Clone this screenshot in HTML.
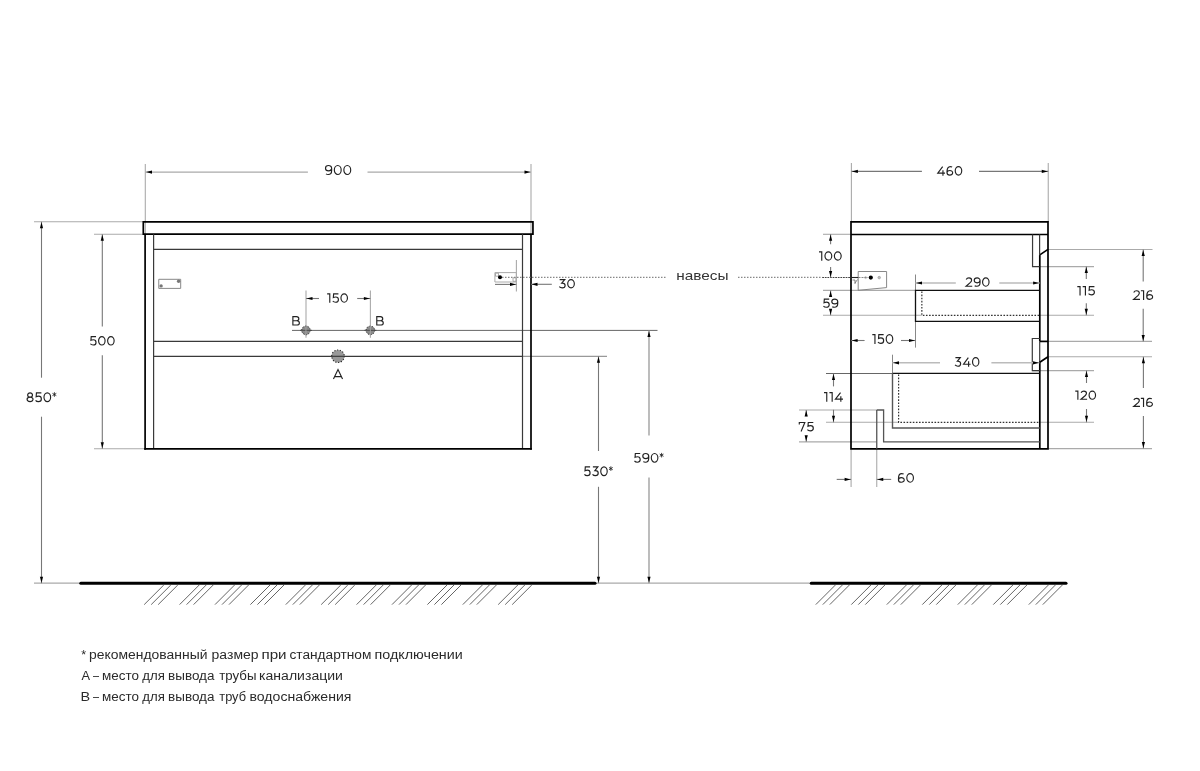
<!DOCTYPE html>
<html><head><meta charset="utf-8"><style>
html,body{margin:0;padding:0;background:#fff;width:1200px;height:771px;overflow:hidden}
svg{display:block;will-change:transform}
text{font-family:"Liberation Sans",sans-serif}
</style></head><body>
<svg width="1200" height="771" viewBox="0 0 1200 771">
<rect width="1200" height="771" fill="#fff"/>
<line x1="145.3" y1="164" x2="145.3" y2="234" stroke="#aaa" stroke-width="1.1" />
<line x1="531" y1="164" x2="531" y2="234" stroke="#aaa" stroke-width="1.1" />
<line x1="34" y1="221.8" x2="143" y2="221.8" stroke="#aaa" stroke-width="1.1" />
<line x1="94" y1="234.3" x2="145" y2="234.3" stroke="#aaa" stroke-width="1.1" />
<line x1="94" y1="448.8" x2="145" y2="448.8" stroke="#aaa" stroke-width="1.1" />
<line x1="34" y1="583.2" x2="81" y2="583.2" stroke="#aaa" stroke-width="1.2" />
<line x1="595" y1="583.2" x2="811" y2="583.2" stroke="#aaa" stroke-width="1.2" />
<line x1="522.5" y1="356.3" x2="607" y2="356.3" stroke="#999" stroke-width="1.3" />
<line x1="292" y1="330.4" x2="657.5" y2="330.4" stroke="#666" stroke-width="1" />
<path d="M143.3,221.8 H532.95 V234.2 H143.3 Z" stroke="#000" stroke-width="1.7" fill="none" />
<line x1="145.1" y1="234.2" x2="145.1" y2="449.7" stroke="#000" stroke-width="1.7" />
<line x1="531.0" y1="234.2" x2="531.0" y2="449.7" stroke="#000" stroke-width="1.7" />
<line x1="144.25" y1="448.85" x2="531.85" y2="448.85" stroke="#000" stroke-width="1.7" />
<line x1="153.6" y1="234.2" x2="153.6" y2="448" stroke="#3a3a3a" stroke-width="1.2" />
<line x1="522.5" y1="234.2" x2="522.5" y2="448" stroke="#3a3a3a" stroke-width="1.2" />
<line x1="153.6" y1="249.3" x2="522.5" y2="249.3" stroke="#3a3a3a" stroke-width="1.2" />
<line x1="153.6" y1="341.4" x2="522.5" y2="341.4" stroke="#3a3a3a" stroke-width="1.2" />
<line x1="153.6" y1="356.4" x2="522.5" y2="356.4" stroke="#3a3a3a" stroke-width="1.2" />
<line x1="145.3" y1="172.1" x2="307.9" y2="172.1" stroke="#aaa" stroke-width="1.3" />
<line x1="367.5" y1="172.1" x2="531" y2="172.1" stroke="#aaa" stroke-width="1.3" />
<polygon points="146.00,172.10 152.00,170.50 152.00,173.70" fill="#000"/>
<polygon points="530.50,172.10 524.50,170.50 524.50,173.70" fill="#000"/>
<g fill="none" stroke="#222" stroke-width="1.15"><path transform="translate(324.90,164.90) scale(0.9925,1.0200)" d="M0.6000000000000001,3.2 A3.1,2.6 0 1,0 6.800000000000001,3.2 A3.1,2.6 0 1,0 0.6000000000000001,3.2 Z M6.8,3.2 V5.4 C6.8,8.0 5.2,9.4 3.3,9.4 C2.4,9.4 1.7,9.2 1.1,8.8" vector-effect="non-scaling-stroke"/><path transform="translate(333.73,164.90) scale(0.9925,1.0200)" d="M0.5999999999999996,5 A3.45,4.4 0 1,0 7.5,5 A3.45,4.4 0 1,0 0.5999999999999996,5 Z" vector-effect="non-scaling-stroke"/><path transform="translate(343.26,164.90) scale(0.9925,1.0200)" d="M0.5999999999999996,5 A3.45,4.4 0 1,0 7.5,5 A3.45,4.4 0 1,0 0.5999999999999996,5 Z" vector-effect="non-scaling-stroke"/></g>
<line x1="41.5" y1="221.8" x2="41.5" y2="377.7" stroke="#777" stroke-width="1.1" />
<line x1="41.5" y1="416.7" x2="41.5" y2="583.2" stroke="#777" stroke-width="1.1" />
<polygon points="41.50,222.30 39.90,228.30 43.10,228.30" fill="#000"/>
<polygon points="41.50,582.70 39.90,576.70 43.10,576.70" fill="#000"/>
<g fill="none" stroke="#222" stroke-width="1.15"><path transform="translate(26.50,392.20) scale(0.9650,1.0000)" d="M1.2000000000000002,2.75 A2.5,2.15 0 1,0 6.2,2.75 A2.5,2.15 0 1,0 1.2000000000000002,2.75 Z M0.6000000000000001,7.15 A3.1,2.25 0 1,0 6.800000000000001,7.15 A3.1,2.25 0 1,0 0.6000000000000001,7.15 Z" vector-effect="non-scaling-stroke"/><path transform="translate(35.09,392.20) scale(0.9650,1.0000)" d="M6.5,0.6 H1.4 L1.1,4.5 C1.9,4.1 2.7,3.9 3.6,3.9 C5.5,3.9 6.5,5.1 6.5,6.7 C6.5,8.4 5.3,9.4 3.5,9.4 C2.2,9.4 1.1,8.9 0.5,8.1" vector-effect="non-scaling-stroke"/><path transform="translate(43.39,392.20) scale(0.9650,1.0000)" d="M0.5999999999999996,5 A3.45,4.4 0 1,0 7.5,5 A3.45,4.4 0 1,0 0.5999999999999996,5 Z" vector-effect="non-scaling-stroke"/><path transform="translate(51.98,392.20) scale(0.9650,1.0000)" d="M2.5,0 V4.6 M0.5,1.15 L4.5,3.45 M0.5,3.45 L4.5,1.15" vector-effect="non-scaling-stroke" stroke-width="0.85"/></g>
<line x1="102.3" y1="234.3" x2="102.3" y2="326.5" stroke="#777" stroke-width="1.1" />
<line x1="102.3" y1="355.3" x2="102.3" y2="448.8" stroke="#777" stroke-width="1.1" />
<polygon points="102.30,234.80 100.70,240.80 103.90,240.80" fill="#000"/>
<polygon points="102.30,448.30 100.70,442.30 103.90,442.30" fill="#000"/>
<g fill="none" stroke="#222" stroke-width="1.15"><path transform="translate(89.90,336.00) scale(0.9430,0.9600)" d="M6.5,0.6 H1.4 L1.1,4.5 C1.9,4.1 2.7,3.9 3.6,3.9 C5.5,3.9 6.5,5.1 6.5,6.7 C6.5,8.4 5.3,9.4 3.5,9.4 C2.2,9.4 1.1,8.9 0.5,8.1" vector-effect="non-scaling-stroke"/><path transform="translate(98.01,336.00) scale(0.9430,0.9600)" d="M0.5999999999999996,5 A3.45,4.4 0 1,0 7.5,5 A3.45,4.4 0 1,0 0.5999999999999996,5 Z" vector-effect="non-scaling-stroke"/><path transform="translate(107.06,336.00) scale(0.9430,0.9600)" d="M0.5999999999999996,5 A3.45,4.4 0 1,0 7.5,5 A3.45,4.4 0 1,0 0.5999999999999996,5 Z" vector-effect="non-scaling-stroke"/></g>
<line x1="598.5" y1="356.3" x2="598.5" y2="451" stroke="#777" stroke-width="1.1" />
<line x1="598.5" y1="486.8" x2="598.5" y2="583.2" stroke="#777" stroke-width="1.1" />
<polygon points="598.50,356.80 596.90,362.80 600.10,362.80" fill="#000"/>
<polygon points="598.50,582.70 596.90,576.70 600.10,576.70" fill="#000"/>
<g fill="none" stroke="#222" stroke-width="1.15"><path transform="translate(584.00,466.30) scale(0.9359,1.0000)" d="M6.5,0.6 H1.4 L1.1,4.5 C1.9,4.1 2.7,3.9 3.6,3.9 C5.5,3.9 6.5,5.1 6.5,6.7 C6.5,8.4 5.3,9.4 3.5,9.4 C2.2,9.4 1.1,8.9 0.5,8.1" vector-effect="non-scaling-stroke"/><path transform="translate(592.05,466.30) scale(0.9359,1.0000)" d="M0.9,0.6 H6.2 L3.0,4.3 H3.6 C5.5,4.3 6.6,5.3 6.6,6.8 C6.6,8.4 5.4,9.4 3.6,9.4 C2.3,9.4 1.2,8.9 0.5,8.1" vector-effect="non-scaling-stroke"/><path transform="translate(600.19,466.30) scale(0.9359,1.0000)" d="M0.5999999999999996,5 A3.45,4.4 0 1,0 7.5,5 A3.45,4.4 0 1,0 0.5999999999999996,5 Z" vector-effect="non-scaling-stroke"/><path transform="translate(608.52,466.30) scale(0.9359,1.0000)" d="M2.5,0 V4.6 M0.5,1.15 L4.5,3.45 M0.5,3.45 L4.5,1.15" vector-effect="non-scaling-stroke" stroke-width="0.85"/></g>
<line x1="649" y1="330.4" x2="649" y2="435.5" stroke="#999" stroke-width="1.3" />
<line x1="649" y1="477.5" x2="649" y2="583.2" stroke="#999" stroke-width="1.3" />
<polygon points="649.00,330.90 647.40,336.90 650.60,336.90" fill="#000"/>
<polygon points="649.00,582.70 647.40,576.70 650.60,576.70" fill="#000"/>
<g fill="none" stroke="#222" stroke-width="1.15"><path transform="translate(634.00,452.90) scale(0.9554,0.9900)" d="M6.5,0.6 H1.4 L1.1,4.5 C1.9,4.1 2.7,3.9 3.6,3.9 C5.5,3.9 6.5,5.1 6.5,6.7 C6.5,8.4 5.3,9.4 3.5,9.4 C2.2,9.4 1.1,8.9 0.5,8.1" vector-effect="non-scaling-stroke"/><path transform="translate(642.22,452.90) scale(0.9554,0.9900)" d="M0.6000000000000001,3.2 A3.1,2.6 0 1,0 6.800000000000001,3.2 A3.1,2.6 0 1,0 0.6000000000000001,3.2 Z M6.8,3.2 V5.4 C6.8,8.0 5.2,9.4 3.3,9.4 C2.4,9.4 1.7,9.2 1.1,8.8" vector-effect="non-scaling-stroke"/><path transform="translate(650.72,452.90) scale(0.9554,0.9900)" d="M0.5999999999999996,5 A3.45,4.4 0 1,0 7.5,5 A3.45,4.4 0 1,0 0.5999999999999996,5 Z" vector-effect="non-scaling-stroke"/><path transform="translate(659.22,452.90) scale(0.9554,0.9900)" d="M2.5,0 V4.6 M0.5,1.15 L4.5,3.45 M0.5,3.45 L4.5,1.15" vector-effect="non-scaling-stroke" stroke-width="0.85"/></g>
<line x1="306" y1="290.4" x2="306" y2="337.7" stroke="#aaa" stroke-width="1.1" />
<line x1="370.4" y1="290.4" x2="370.4" y2="337.7" stroke="#aaa" stroke-width="1.1" />
<line x1="306" y1="298.5" x2="319" y2="298.5" stroke="#777" stroke-width="1.1" />
<line x1="357.2" y1="298.5" x2="370.4" y2="298.5" stroke="#777" stroke-width="1.1" />
<polygon points="306.50,298.50 312.50,296.90 312.50,300.10" fill="#000"/>
<polygon points="369.90,298.50 363.90,296.90 363.90,300.10" fill="#000"/>
<g fill="none" stroke="#222" stroke-width="1.15"><path transform="translate(327.15,293.30) scale(0.9392,0.9500)" d="M0,0.6 H2.8 V10" vector-effect="non-scaling-stroke"/><path transform="translate(332.32,293.30) scale(0.9392,0.9500)" d="M6.5,0.6 H1.4 L1.1,4.5 C1.9,4.1 2.7,3.9 3.6,3.9 C5.5,3.9 6.5,5.1 6.5,6.7 C6.5,8.4 5.3,9.4 3.5,9.4 C2.2,9.4 1.1,8.9 0.5,8.1" vector-effect="non-scaling-stroke"/><path transform="translate(340.39,293.30) scale(0.9392,0.9500)" d="M0.5999999999999996,5 A3.45,4.4 0 1,0 7.5,5 A3.45,4.4 0 1,0 0.5999999999999996,5 Z" vector-effect="non-scaling-stroke"/></g>
<g fill="none" stroke="#222" stroke-width="1.15"><path transform="translate(291.80,316.00) scale(1.0811,0.9600)" d="M4.3,4.9 H1.0 V0.6 H4.3 C5.8,0.6 6.5,1.5 6.5,2.8 C6.5,4.1 5.7,4.9 4.3,4.9 H4.6 C6.2,4.9 7.0,5.9 7.0,7.2 C7.0,8.5 6.1,9.4 4.6,9.4 H1.0 V4.9" vector-effect="non-scaling-stroke"/></g>
<g fill="none" stroke="#222" stroke-width="1.15"><path transform="translate(375.70,316.00) scale(1.0811,0.9600)" d="M4.3,4.9 H1.0 V0.6 H4.3 C5.8,0.6 6.5,1.5 6.5,2.8 C6.5,4.1 5.7,4.9 4.3,4.9 H4.6 C6.2,4.9 7.0,5.9 7.0,7.2 C7.0,8.5 6.1,9.4 4.6,9.4 H1.0 V4.9" vector-effect="non-scaling-stroke"/></g>
<circle cx="305.95" cy="330.35" r="4.3" fill="#8a8a8a" stroke="#222" stroke-width="1" stroke-dasharray="1.1 1.6"/>
<circle cx="370.4" cy="330.35" r="4.3" fill="#8a8a8a" stroke="#222" stroke-width="1" stroke-dasharray="1.1 1.6"/>
<circle cx="338" cy="356.2" r="6.3" fill="#999" stroke="#222" stroke-width="1.05" stroke-dasharray="1.15 1.65"/>
<line x1="300" y1="330.35" x2="312" y2="330.35" stroke="#444" stroke-width="0.9" />
<line x1="364.4" y1="330.35" x2="376.4" y2="330.35" stroke="#444" stroke-width="0.9" />
<line x1="305.95" y1="325" x2="305.95" y2="336" stroke="#aaa" stroke-width="0.8" />
<line x1="370.4" y1="325" x2="370.4" y2="336" stroke="#aaa" stroke-width="0.8" />
<line x1="331" y1="356.3" x2="345" y2="356.3" stroke="#333" stroke-width="1.1" />
<g fill="none" stroke="#222" stroke-width="1.15"><path transform="translate(333.00,369.10) scale(1.1628,0.9900)" d="M0.4,10 L4.3,0.5 L8.2,10 M1.45,7.6 H7.15" vector-effect="non-scaling-stroke"/></g>
<path d="M158.75,279.3 H180.7 V288.4 H158.75 Z" stroke="#888" stroke-width="1" fill="none" />
<circle cx="178.6" cy="281.2" r="1.7" fill="#777"/>
<circle cx="161.1" cy="285.9" r="1.7" fill="#777"/>
<path d="M494.9,272.6 H516.4 V282 H494.9 Z" stroke="#aaa" stroke-width="1" fill="none" />
<path d="M495.5,273.2 h3 v3 h-3 z" stroke="#999" stroke-width="0.8" fill="none" />
<path d="M513,277.8 h3 v3.5 h-3 z" stroke="#999" stroke-width="0.8" fill="none" />
<circle cx="500" cy="277.3" r="2" fill="#000"/>
<line x1="516.4" y1="260" x2="516.4" y2="291.6" stroke="#aaa" stroke-width="1.1" />
<line x1="495" y1="284.4" x2="516.4" y2="284.4" stroke="#777" stroke-width="1.1" />
<polygon points="516.00,284.40 510.00,282.80 510.00,286.00" fill="#000"/>
<line x1="531" y1="284.3" x2="551.8" y2="284.3" stroke="#777" stroke-width="1.1" />
<polygon points="531.50,284.30 537.50,282.70 537.50,285.90" fill="#000"/>
<g fill="none" stroke="#222" stroke-width="1.15"><path transform="translate(558.80,279.00) scale(0.9583,0.9450)" d="M0.9,0.6 H6.2 L3.0,4.3 H3.6 C5.5,4.3 6.6,5.3 6.6,6.8 C6.6,8.4 5.4,9.4 3.6,9.4 C2.3,9.4 1.2,8.9 0.5,8.1" vector-effect="non-scaling-stroke"/><path transform="translate(567.14,279.00) scale(0.9583,0.9450)" d="M0.5999999999999996,5 A3.45,4.4 0 1,0 7.5,5 A3.45,4.4 0 1,0 0.5999999999999996,5 Z" vector-effect="non-scaling-stroke"/></g>
<line x1="502" y1="277.4" x2="666.3" y2="277.4" stroke="#888" stroke-width="1.1" stroke-dasharray="1.5 1.5"/>
<line x1="738" y1="277.4" x2="822.2" y2="277.4" stroke="#888" stroke-width="1.1" stroke-dasharray="1.5 1.5"/>
<text x="676.24" y="279.7" font-size="13.5" fill="#333" textLength="52.33" lengthAdjust="spacingAndGlyphs">навесы</text>
<line x1="80.8" y1="583.2" x2="595" y2="583.2" stroke="#000" stroke-width="3" stroke-linecap="round"/>
<line x1="144.2" y1="604.6" x2="163.8" y2="585" stroke="#555" stroke-width="0.9" />
<line x1="151.2" y1="604.6" x2="170.8" y2="585" stroke="#555" stroke-width="0.9" />
<line x1="158.2" y1="604.6" x2="177.8" y2="585" stroke="#555" stroke-width="0.9" />
<line x1="179.6" y1="604.6" x2="199.2" y2="585" stroke="#555" stroke-width="0.9" />
<line x1="186.6" y1="604.6" x2="206.2" y2="585" stroke="#555" stroke-width="0.9" />
<line x1="193.6" y1="604.6" x2="213.2" y2="585" stroke="#555" stroke-width="0.9" />
<line x1="215.0" y1="604.6" x2="234.6" y2="585" stroke="#555" stroke-width="0.9" />
<line x1="222.0" y1="604.6" x2="241.6" y2="585" stroke="#555" stroke-width="0.9" />
<line x1="229.0" y1="604.6" x2="248.6" y2="585" stroke="#555" stroke-width="0.9" />
<line x1="250.4" y1="604.6" x2="270.0" y2="585" stroke="#555" stroke-width="0.9" />
<line x1="257.4" y1="604.6" x2="277.0" y2="585" stroke="#555" stroke-width="0.9" />
<line x1="264.4" y1="604.6" x2="284.0" y2="585" stroke="#555" stroke-width="0.9" />
<line x1="285.8" y1="604.6" x2="305.4" y2="585" stroke="#555" stroke-width="0.9" />
<line x1="292.8" y1="604.6" x2="312.4" y2="585" stroke="#555" stroke-width="0.9" />
<line x1="299.8" y1="604.6" x2="319.4" y2="585" stroke="#555" stroke-width="0.9" />
<line x1="321.2" y1="604.6" x2="340.8" y2="585" stroke="#555" stroke-width="0.9" />
<line x1="328.2" y1="604.6" x2="347.8" y2="585" stroke="#555" stroke-width="0.9" />
<line x1="335.2" y1="604.6" x2="354.8" y2="585" stroke="#555" stroke-width="0.9" />
<line x1="356.6" y1="604.6" x2="376.2" y2="585" stroke="#555" stroke-width="0.9" />
<line x1="363.6" y1="604.6" x2="383.2" y2="585" stroke="#555" stroke-width="0.9" />
<line x1="370.6" y1="604.6" x2="390.2" y2="585" stroke="#555" stroke-width="0.9" />
<line x1="392.0" y1="604.6" x2="411.6" y2="585" stroke="#555" stroke-width="0.9" />
<line x1="399.0" y1="604.6" x2="418.6" y2="585" stroke="#555" stroke-width="0.9" />
<line x1="406.0" y1="604.6" x2="425.6" y2="585" stroke="#555" stroke-width="0.9" />
<line x1="427.4" y1="604.6" x2="447.0" y2="585" stroke="#555" stroke-width="0.9" />
<line x1="434.4" y1="604.6" x2="454.0" y2="585" stroke="#555" stroke-width="0.9" />
<line x1="441.4" y1="604.6" x2="461.0" y2="585" stroke="#555" stroke-width="0.9" />
<line x1="462.8" y1="604.6" x2="482.4" y2="585" stroke="#555" stroke-width="0.9" />
<line x1="469.8" y1="604.6" x2="489.4" y2="585" stroke="#555" stroke-width="0.9" />
<line x1="476.8" y1="604.6" x2="496.4" y2="585" stroke="#555" stroke-width="0.9" />
<line x1="498.2" y1="604.6" x2="517.8" y2="585" stroke="#555" stroke-width="0.9" />
<line x1="505.2" y1="604.6" x2="524.8" y2="585" stroke="#555" stroke-width="0.9" />
<line x1="512.2" y1="604.6" x2="531.8" y2="585" stroke="#555" stroke-width="0.9" />
<line x1="811.25" y1="583.2" x2="1066" y2="583.2" stroke="#000" stroke-width="3" stroke-linecap="round"/>
<line x1="815.8" y1="604.6" x2="835.4" y2="585" stroke="#555" stroke-width="0.9" />
<line x1="822.8" y1="604.6" x2="842.4" y2="585" stroke="#555" stroke-width="0.9" />
<line x1="829.8" y1="604.6" x2="849.4" y2="585" stroke="#555" stroke-width="0.9" />
<line x1="851.3" y1="604.6" x2="870.9" y2="585" stroke="#555" stroke-width="0.9" />
<line x1="858.3" y1="604.6" x2="877.9" y2="585" stroke="#555" stroke-width="0.9" />
<line x1="865.3" y1="604.6" x2="884.9" y2="585" stroke="#555" stroke-width="0.9" />
<line x1="886.8" y1="604.6" x2="906.4" y2="585" stroke="#555" stroke-width="0.9" />
<line x1="893.8" y1="604.6" x2="913.4" y2="585" stroke="#555" stroke-width="0.9" />
<line x1="900.8" y1="604.6" x2="920.4" y2="585" stroke="#555" stroke-width="0.9" />
<line x1="922.3" y1="604.6" x2="941.9" y2="585" stroke="#555" stroke-width="0.9" />
<line x1="929.3" y1="604.6" x2="948.9" y2="585" stroke="#555" stroke-width="0.9" />
<line x1="936.3" y1="604.6" x2="955.9" y2="585" stroke="#555" stroke-width="0.9" />
<line x1="957.8" y1="604.6" x2="977.4" y2="585" stroke="#555" stroke-width="0.9" />
<line x1="964.8" y1="604.6" x2="984.4" y2="585" stroke="#555" stroke-width="0.9" />
<line x1="971.8" y1="604.6" x2="991.4" y2="585" stroke="#555" stroke-width="0.9" />
<line x1="993.3" y1="604.6" x2="1012.9" y2="585" stroke="#555" stroke-width="0.9" />
<line x1="1000.3" y1="604.6" x2="1019.9" y2="585" stroke="#555" stroke-width="0.9" />
<line x1="1007.3" y1="604.6" x2="1026.9" y2="585" stroke="#555" stroke-width="0.9" />
<line x1="1028.8" y1="604.6" x2="1048.4" y2="585" stroke="#555" stroke-width="0.9" />
<line x1="1035.8" y1="604.6" x2="1055.4" y2="585" stroke="#555" stroke-width="0.9" />
<line x1="1042.8" y1="604.6" x2="1062.4" y2="585" stroke="#555" stroke-width="0.9" />
<line x1="851.4" y1="163" x2="851.4" y2="222" stroke="#aaa" stroke-width="1.1" />
<line x1="1048.25" y1="163" x2="1048.25" y2="222" stroke="#aaa" stroke-width="1.1" />
<line x1="823" y1="234.3" x2="851" y2="234.3" stroke="#aaa" stroke-width="1.1" />
<line x1="823" y1="290.4" x2="915.5" y2="290.4" stroke="#aaa" stroke-width="1.1" />
<line x1="823" y1="315.3" x2="921.8" y2="315.3" stroke="#aaa" stroke-width="1.1" />
<line x1="915.5" y1="274.5" x2="915.5" y2="290.5" stroke="#888" stroke-width="1" />
<line x1="915.5" y1="321.3" x2="915.5" y2="347.6" stroke="#888" stroke-width="1" />
<line x1="892.5" y1="354.7" x2="892.5" y2="373.4" stroke="#888" stroke-width="1" />
<line x1="826" y1="373.5" x2="892.5" y2="373.5" stroke="#666" stroke-width="1" />
<line x1="826" y1="422.3" x2="898.5" y2="422.3" stroke="#aaa" stroke-width="1.1" />
<line x1="799" y1="410" x2="876.75" y2="410" stroke="#aaa" stroke-width="1.1" />
<line x1="799" y1="441.85" x2="876.75" y2="441.85" stroke="#aaa" stroke-width="1.1" />
<line x1="851.1" y1="448.8" x2="851.1" y2="487" stroke="#aaa" stroke-width="1.1" />
<line x1="876.75" y1="448.8" x2="876.75" y2="487" stroke="#aaa" stroke-width="1.1" />
<line x1="1048" y1="249.5" x2="1152.5" y2="249.5" stroke="#aaa" stroke-width="1.1" />
<line x1="1039.6" y1="266.6" x2="1094" y2="266.6" stroke="#aaa" stroke-width="1.1" />
<line x1="1039.6" y1="315.3" x2="1094" y2="315.3" stroke="#aaa" stroke-width="1.1" />
<line x1="1048" y1="341.4" x2="1152" y2="341.4" stroke="#aaa" stroke-width="1.1" />
<line x1="1048" y1="356.7" x2="1152" y2="356.7" stroke="#aaa" stroke-width="1.1" />
<line x1="1032.3" y1="370.6" x2="1094" y2="370.6" stroke="#aaa" stroke-width="1.1" />
<line x1="1039.8" y1="422.3" x2="1094" y2="422.3" stroke="#aaa" stroke-width="1.1" />
<line x1="1048" y1="448.6" x2="1152" y2="448.6" stroke="#aaa" stroke-width="1.1" />
<path d="M851.0,221.8 H1048.0 V448.85 H851.0 Z" stroke="#000" stroke-width="1.7" fill="none" />
<line x1="851" y1="234.5" x2="1048" y2="234.5" stroke="#000" stroke-width="1.7" />
<path d="M1048,249.4 L1039.8,254.9 V341.4" stroke="#000" stroke-width="1.7" fill="none" />
<line x1="1039.7" y1="341.4" x2="1039.7" y2="362.2" stroke="#3a3a3a" stroke-width="1.2" />
<line x1="1039.6" y1="234.5" x2="1039.6" y2="255.2" stroke="#3a3a3a" stroke-width="1.2" />
<line x1="1039.8" y1="341.4" x2="1048" y2="341.4" stroke="#000" stroke-width="1.7" />
<path d="M1048,356.7 L1039.8,362.2 V448.85" stroke="#000" stroke-width="1.7" fill="none" />
<path d="M1032.55,234.5 V266.6 H1039.6" stroke="#3a3a3a" stroke-width="1.2" fill="none" />
<path d="M1039.8,338.5 H1032.3 V370.6 H1039.8" stroke="#3a3a3a" stroke-width="1.2" fill="none" />
<path d="M1039.6,290.45 H915.5 V321.35 H1039.6" stroke="#111" stroke-width="1.3" fill="none" />
<path d="M921.85,291.5 V315.3 H1039.6" stroke="#333" stroke-width="1.2" fill="none" stroke-dasharray="1.6 1.5"/>
<line x1="892.5" y1="373.45" x2="1039.8" y2="373.45" stroke="#111" stroke-width="1.3" />
<path d="M892.5,373.45 V428 H1039.8" stroke="#555" stroke-width="1.4" fill="none" />
<path d="M898.6,374.5 V422.3 H1039.8" stroke="#333" stroke-width="1.2" fill="none" stroke-dasharray="1.6 1.5"/>
<line x1="876.75" y1="448.8" x2="876.75" y2="410" stroke="#555" stroke-width="1.3" />
<path d="M876.75,410 H883.6 V441.85 H1039.8" stroke="#555" stroke-width="1.3" fill="none" />
<path d="M858.2,271.5 H886.6 V287.6 L858.2,290.3 Z" stroke="#888" stroke-width="1" fill="none" />
<circle cx="870.8" cy="277.6" r="2.1" fill="#000"/>
<circle cx="865.6" cy="277.6" r="1" fill="none" stroke="#999" stroke-width="0.6"/>
<circle cx="879.2" cy="277.6" r="1.3" fill="#bbb" stroke="#999" stroke-width="0.6"/>
<path d="M852.5,280 H855 V284 M855,283 L857.5,279.5" stroke="#555" stroke-width="0.7" fill="none" />
<line x1="822.2" y1="277.5" x2="851" y2="277.5" stroke="#444" stroke-width="1.1" stroke-dasharray="1.8 0.8"/>
<line x1="851" y1="277.5" x2="858.5" y2="277.5" stroke="#222" stroke-width="1.1" />
<line x1="858.5" y1="277.5" x2="868" y2="277.5" stroke="#888" stroke-width="1" stroke-dasharray="2 1"/>
<line x1="851.4" y1="171.4" x2="921.9" y2="171.4" stroke="#777" stroke-width="1.1" />
<line x1="979" y1="171.4" x2="1048.25" y2="171.4" stroke="#777" stroke-width="1.1" />
<polygon points="851.90,171.40 857.90,169.80 857.90,173.00" fill="#000"/>
<polygon points="1047.75,171.40 1041.75,169.80 1041.75,173.00" fill="#000"/>
<g fill="none" stroke="#222" stroke-width="1.15"><path transform="translate(937.20,166.00) scale(0.9436,0.9700)" d="M5.8,0.6 L0.6,7.4 H8.3 M6.1,4.4 V10" vector-effect="non-scaling-stroke"/><path transform="translate(946.45,166.00) scale(0.9436,0.9700)" d="M6.0,1.0 C5.4,0.7 4.7,0.6 4.0,0.6 C1.9,0.6 0.6,2.6 0.6,5.6 V7.0 M0.6000000000000001,7.0 A3.0,2.4 0 1,0 6.6,7.0 A3.0,2.4 0 1,0 0.6000000000000001,7.0 Z" vector-effect="non-scaling-stroke"/><path transform="translate(954.66,166.00) scale(0.9436,0.9700)" d="M0.5999999999999996,5 A3.45,4.4 0 1,0 7.5,5 A3.45,4.4 0 1,0 0.5999999999999996,5 Z" vector-effect="non-scaling-stroke"/></g>
<line x1="830.6" y1="234.3" x2="830.6" y2="244.3" stroke="#777" stroke-width="1.1" />
<polygon points="830.60,234.80 829.00,240.80 832.20,240.80" fill="#000"/>
<line x1="830.6" y1="267" x2="830.6" y2="277.5" stroke="#777" stroke-width="1.1" />
<polygon points="830.60,277.00 829.00,271.00 832.20,271.00" fill="#000"/>
<g fill="none" stroke="#222" stroke-width="1.15"><path transform="translate(819.00,251.25) scale(0.9806,0.9500)" d="M0,0.6 H2.8 V10" vector-effect="non-scaling-stroke"/><path transform="translate(824.39,251.25) scale(0.9806,0.9500)" d="M0.5999999999999996,5 A3.45,4.4 0 1,0 7.5,5 A3.45,4.4 0 1,0 0.5999999999999996,5 Z" vector-effect="non-scaling-stroke"/><path transform="translate(833.81,251.25) scale(0.9806,0.9500)" d="M0.5999999999999996,5 A3.45,4.4 0 1,0 7.5,5 A3.45,4.4 0 1,0 0.5999999999999996,5 Z" vector-effect="non-scaling-stroke"/></g>
<line x1="830.6" y1="290.4" x2="830.6" y2="297" stroke="#777" stroke-width="1.1" />
<polygon points="830.60,290.90 829.00,296.90 832.20,296.90" fill="#000"/>
<line x1="830.6" y1="309" x2="830.6" y2="315.3" stroke="#777" stroke-width="1.1" />
<polygon points="830.60,314.80 829.00,308.80 832.20,308.80" fill="#000"/>
<g fill="none" stroke="#222" stroke-width="1.15"><path transform="translate(823.00,298.50) scale(0.9562,0.9300)" d="M6.5,0.6 H1.4 L1.1,4.5 C1.9,4.1 2.7,3.9 3.6,3.9 C5.5,3.9 6.5,5.1 6.5,6.7 C6.5,8.4 5.3,9.4 3.5,9.4 C2.2,9.4 1.1,8.9 0.5,8.1" vector-effect="non-scaling-stroke"/><path transform="translate(831.22,298.50) scale(0.9562,0.9300)" d="M0.6000000000000001,3.2 A3.1,2.6 0 1,0 6.800000000000001,3.2 A3.1,2.6 0 1,0 0.6000000000000001,3.2 Z M6.8,3.2 V5.4 C6.8,8.0 5.2,9.4 3.3,9.4 C2.4,9.4 1.7,9.2 1.1,8.8" vector-effect="non-scaling-stroke"/></g>
<line x1="915.5" y1="283.0" x2="955.8" y2="283.0" stroke="#bbb" stroke-width="1.4" />
<line x1="999.3" y1="283.0" x2="1039.6" y2="283.0" stroke="#bbb" stroke-width="1.4" />
<polygon points="916.00,283.00 922.00,281.40 922.00,284.60" fill="#000"/>
<polygon points="1039.10,283.00 1033.10,281.40 1033.10,284.60" fill="#000"/>
<g fill="none" stroke="#222" stroke-width="1.15"><path transform="translate(965.50,277.30) scale(0.9377,0.9500)" d="M0.75,2.4 C1.3,1.2 2.4,0.6 3.7,0.6 C5.4,0.6 6.5,1.6 6.5,3.0 C6.5,3.9 6.1,4.5 5.3,5.3 L0.6,9.4 H7.2" vector-effect="non-scaling-stroke"/><path transform="translate(973.66,277.30) scale(0.9377,0.9500)" d="M0.6000000000000001,3.2 A3.1,2.6 0 1,0 6.800000000000001,3.2 A3.1,2.6 0 1,0 0.6000000000000001,3.2 Z M6.8,3.2 V5.4 C6.8,8.0 5.2,9.4 3.3,9.4 C2.4,9.4 1.7,9.2 1.1,8.8" vector-effect="non-scaling-stroke"/><path transform="translate(982.00,277.30) scale(0.9377,0.9500)" d="M0.5999999999999996,5 A3.45,4.4 0 1,0 7.5,5 A3.45,4.4 0 1,0 0.5999999999999996,5 Z" vector-effect="non-scaling-stroke"/></g>
<line x1="851.1" y1="340.5" x2="864.6" y2="340.5" stroke="#777" stroke-width="1.1" />
<line x1="901" y1="340.5" x2="915.5" y2="340.5" stroke="#777" stroke-width="1.1" />
<polygon points="851.60,340.50 857.60,338.90 857.60,342.10" fill="#000"/>
<polygon points="915.00,340.50 909.00,338.90 909.00,342.10" fill="#000"/>
<g fill="none" stroke="#222" stroke-width="1.15"><path transform="translate(872.30,334.00) scale(0.9459,0.9900)" d="M0,0.6 H2.8 V10" vector-effect="non-scaling-stroke"/><path transform="translate(877.50,334.00) scale(0.9459,0.9900)" d="M6.5,0.6 H1.4 L1.1,4.5 C1.9,4.1 2.7,3.9 3.6,3.9 C5.5,3.9 6.5,5.1 6.5,6.7 C6.5,8.4 5.3,9.4 3.5,9.4 C2.2,9.4 1.1,8.9 0.5,8.1" vector-effect="non-scaling-stroke"/><path transform="translate(885.64,334.00) scale(0.9459,0.9900)" d="M0.5999999999999996,5 A3.45,4.4 0 1,0 7.5,5 A3.45,4.4 0 1,0 0.5999999999999996,5 Z" vector-effect="non-scaling-stroke"/></g>
<line x1="892.5" y1="362.8" x2="940" y2="362.8" stroke="#bbb" stroke-width="1.4" />
<line x1="991.4" y1="362.8" x2="1039.3" y2="362.8" stroke="#bbb" stroke-width="1.4" />
<polygon points="893.00,362.80 899.00,361.20 899.00,364.40" fill="#000"/>
<polygon points="1039.00,362.80 1033.00,361.20 1033.00,364.40" fill="#000"/>
<g fill="none" stroke="#222" stroke-width="1.15"><path transform="translate(954.60,357.10) scale(0.9151,0.9700)" d="M0.9,0.6 H6.2 L3.0,4.3 H3.6 C5.5,4.3 6.6,5.3 6.6,6.8 C6.6,8.4 5.4,9.4 3.6,9.4 C2.3,9.4 1.2,8.9 0.5,8.1" vector-effect="non-scaling-stroke"/><path transform="translate(963.02,357.10) scale(0.9151,0.9700)" d="M5.8,0.6 L0.6,7.4 H8.3 M6.1,4.4 V10" vector-effect="non-scaling-stroke"/><path transform="translate(971.99,357.10) scale(0.9151,0.9700)" d="M0.5999999999999996,5 A3.45,4.4 0 1,0 7.5,5 A3.45,4.4 0 1,0 0.5999999999999996,5 Z" vector-effect="non-scaling-stroke"/></g>
<line x1="833.5" y1="373.5" x2="833.5" y2="386.4" stroke="#777" stroke-width="1.1" />
<polygon points="833.50,374.00 831.90,380.00 835.10,380.00" fill="#000"/>
<line x1="833.5" y1="409.8" x2="833.5" y2="422.3" stroke="#777" stroke-width="1.1" />
<polygon points="833.50,421.80 831.90,415.80 835.10,415.80" fill="#000"/>
<g fill="none" stroke="#222" stroke-width="1.15"><path transform="translate(824.00,392.00) scale(0.9845,0.9700)" d="M0,0.6 H2.8 V10" vector-effect="non-scaling-stroke"/><path transform="translate(829.41,392.00) scale(0.9845,0.9700)" d="M0,0.6 H2.8 V10" vector-effect="non-scaling-stroke"/><path transform="translate(834.83,392.00) scale(0.9845,0.9700)" d="M5.8,0.6 L0.6,7.4 H8.3 M6.1,4.4 V10" vector-effect="non-scaling-stroke"/></g>
<line x1="806.2" y1="410" x2="806.2" y2="416.3" stroke="#777" stroke-width="1.1" />
<polygon points="806.20,410.50 804.60,416.50 807.80,416.50" fill="#000"/>
<line x1="806.2" y1="435.7" x2="806.2" y2="441.85" stroke="#777" stroke-width="1.1" />
<polygon points="806.20,441.35 804.60,435.35 807.80,435.35" fill="#000"/>
<g fill="none" stroke="#222" stroke-width="1.15"><path transform="translate(798.70,421.90) scale(0.9870,0.9550)" d="M0.6,2.6 V0.6 H6.2 L2.4,10" vector-effect="non-scaling-stroke"/><path transform="translate(806.89,421.90) scale(0.9870,0.9550)" d="M6.5,0.6 H1.4 L1.1,4.5 C1.9,4.1 2.7,3.9 3.6,3.9 C5.5,3.9 6.5,5.1 6.5,6.7 C6.5,8.4 5.3,9.4 3.5,9.4 C2.2,9.4 1.1,8.9 0.5,8.1" vector-effect="non-scaling-stroke"/></g>
<line x1="836.7" y1="479.4" x2="851.1" y2="479.4" stroke="#777" stroke-width="1.1" />
<polygon points="850.60,479.40 844.60,477.80 844.60,481.00" fill="#000"/>
<line x1="876.75" y1="479.4" x2="891.2" y2="479.4" stroke="#777" stroke-width="1.1" />
<polygon points="877.25,479.40 883.25,477.80 883.25,481.00" fill="#000"/>
<g fill="none" stroke="#222" stroke-width="1.15"><path transform="translate(897.90,473.10) scale(0.9583,0.9700)" d="M6.0,1.0 C5.4,0.7 4.7,0.6 4.0,0.6 C1.9,0.6 0.6,2.6 0.6,5.6 V7.0 M0.6000000000000001,7.0 A3.0,2.4 0 1,0 6.6,7.0 A3.0,2.4 0 1,0 0.6000000000000001,7.0 Z" vector-effect="non-scaling-stroke"/><path transform="translate(906.24,473.10) scale(0.9583,0.9700)" d="M0.5999999999999996,5 A3.45,4.4 0 1,0 7.5,5 A3.45,4.4 0 1,0 0.5999999999999996,5 Z" vector-effect="non-scaling-stroke"/></g>
<line x1="1086.3" y1="266.6" x2="1086.3" y2="279" stroke="#777" stroke-width="1.1" />
<polygon points="1086.30,267.10 1084.70,273.10 1087.90,273.10" fill="#000"/>
<line x1="1086.3" y1="303.2" x2="1086.3" y2="315.3" stroke="#777" stroke-width="1.1" />
<polygon points="1086.30,314.80 1084.70,308.80 1087.90,308.80" fill="#000"/>
<g fill="none" stroke="#222" stroke-width="1.15"><path transform="translate(1077.30,286.00) scale(0.9779,0.9500)" d="M0,0.6 H2.8 V10" vector-effect="non-scaling-stroke"/><path transform="translate(1082.68,286.00) scale(0.9779,0.9500)" d="M0,0.6 H2.8 V10" vector-effect="non-scaling-stroke"/><path transform="translate(1088.06,286.00) scale(0.9779,0.9500)" d="M6.5,0.6 H1.4 L1.1,4.5 C1.9,4.1 2.7,3.9 3.6,3.9 C5.5,3.9 6.5,5.1 6.5,6.7 C6.5,8.4 5.3,9.4 3.5,9.4 C2.2,9.4 1.1,8.9 0.5,8.1" vector-effect="non-scaling-stroke"/></g>
<line x1="1143.2" y1="249.5" x2="1143.2" y2="281.5" stroke="#777" stroke-width="1.1" />
<polygon points="1143.20,250.00 1141.60,256.00 1144.80,256.00" fill="#000"/>
<line x1="1143.2" y1="308.8" x2="1143.2" y2="341.4" stroke="#777" stroke-width="1.1" />
<polygon points="1143.20,340.90 1141.60,334.90 1144.80,334.90" fill="#000"/>
<g fill="none" stroke="#222" stroke-width="1.15"><path transform="translate(1133.00,290.15) scale(0.9712,0.9750)" d="M0.75,2.4 C1.3,1.2 2.4,0.6 3.7,0.6 C5.4,0.6 6.5,1.6 6.5,3.0 C6.5,3.9 6.1,4.5 5.3,5.3 L0.6,9.4 H7.2" vector-effect="non-scaling-stroke"/><path transform="translate(1140.87,290.15) scale(0.9712,0.9750)" d="M0,0.6 H2.8 V10" vector-effect="non-scaling-stroke"/><path transform="translate(1146.21,290.15) scale(0.9712,0.9750)" d="M6.0,1.0 C5.4,0.7 4.7,0.6 4.0,0.6 C1.9,0.6 0.6,2.6 0.6,5.6 V7.0 M0.6000000000000001,7.0 A3.0,2.4 0 1,0 6.6,7.0 A3.0,2.4 0 1,0 0.6000000000000001,7.0 Z" vector-effect="non-scaling-stroke"/></g>
<line x1="1086.5" y1="370.6" x2="1086.5" y2="383" stroke="#777" stroke-width="1.1" />
<polygon points="1086.50,371.10 1084.90,377.10 1088.10,377.10" fill="#000"/>
<line x1="1086.5" y1="409" x2="1086.5" y2="422.3" stroke="#777" stroke-width="1.1" />
<polygon points="1086.50,421.80 1084.90,415.80 1088.10,415.80" fill="#000"/>
<g fill="none" stroke="#222" stroke-width="1.15"><path transform="translate(1075.25,390.60) scale(0.9350,0.9200)" d="M0,0.6 H2.8 V10" vector-effect="non-scaling-stroke"/><path transform="translate(1080.39,390.60) scale(0.9350,0.9200)" d="M0.75,2.4 C1.3,1.2 2.4,0.6 3.7,0.6 C5.4,0.6 6.5,1.6 6.5,3.0 C6.5,3.9 6.1,4.5 5.3,5.3 L0.6,9.4 H7.2" vector-effect="non-scaling-stroke"/><path transform="translate(1088.53,390.60) scale(0.9350,0.9200)" d="M0.5999999999999996,5 A3.45,4.4 0 1,0 7.5,5 A3.45,4.4 0 1,0 0.5999999999999996,5 Z" vector-effect="non-scaling-stroke"/></g>
<line x1="1143.4" y1="356.7" x2="1143.4" y2="388" stroke="#777" stroke-width="1.1" />
<polygon points="1143.40,357.20 1141.80,363.20 1145.00,363.20" fill="#000"/>
<line x1="1143.4" y1="416" x2="1143.4" y2="448.6" stroke="#777" stroke-width="1.1" />
<polygon points="1143.40,448.10 1141.80,442.10 1145.00,442.10" fill="#000"/>
<g fill="none" stroke="#222" stroke-width="1.15"><path transform="translate(1133.10,397.75) scale(0.9567,0.9250)" d="M0.75,2.4 C1.3,1.2 2.4,0.6 3.7,0.6 C5.4,0.6 6.5,1.6 6.5,3.0 C6.5,3.9 6.1,4.5 5.3,5.3 L0.6,9.4 H7.2" vector-effect="non-scaling-stroke"/><path transform="translate(1140.85,397.75) scale(0.9567,0.9250)" d="M0,0.6 H2.8 V10" vector-effect="non-scaling-stroke"/><path transform="translate(1146.11,397.75) scale(0.9567,0.9250)" d="M6.0,1.0 C5.4,0.7 4.7,0.6 4.0,0.6 C1.9,0.6 0.6,2.6 0.6,5.6 V7.0 M0.6000000000000001,7.0 A3.0,2.4 0 1,0 6.6,7.0 A3.0,2.4 0 1,0 0.6000000000000001,7.0 Z" vector-effect="non-scaling-stroke"/></g>
<text x="81.30" y="658.6" font-size="12.5" fill="#2a2a2a" textLength="4.90" lengthAdjust="spacingAndGlyphs">*</text>
<text x="89.10" y="658.6" font-size="12.5" fill="#2a2a2a" textLength="118.36" lengthAdjust="spacingAndGlyphs">рекомендованный</text>
<text x="211.60" y="658.6" font-size="12.5" fill="#2a2a2a" textLength="46.98" lengthAdjust="spacingAndGlyphs">размер</text>
<text x="261.45" y="658.6" font-size="12.5" fill="#2a2a2a" textLength="25.10" lengthAdjust="spacingAndGlyphs">при</text>
<text x="289.42" y="658.6" font-size="12.5" fill="#2a2a2a" textLength="82.02" lengthAdjust="spacingAndGlyphs">стандартном</text>
<text x="374.51" y="658.6" font-size="12.5" fill="#2a2a2a" textLength="88.27" lengthAdjust="spacingAndGlyphs">подключении</text>
<text x="81.47" y="679.8" font-size="12.5" fill="#2a2a2a" textLength="8.55" lengthAdjust="spacingAndGlyphs">A</text>
<text x="93.00" y="679.8" font-size="12.5" fill="#2a2a2a" textLength="6.01" lengthAdjust="spacingAndGlyphs">–</text>
<text x="102.07" y="679.8" font-size="12.5" fill="#2a2a2a" textLength="36.99" lengthAdjust="spacingAndGlyphs">место</text>
<text x="142.37" y="679.8" font-size="12.5" fill="#2a2a2a" textLength="22.54" lengthAdjust="spacingAndGlyphs">для</text>
<text x="168.07" y="679.8" font-size="12.5" fill="#2a2a2a" textLength="46.43" lengthAdjust="spacingAndGlyphs">вывода</text>
<text x="219.27" y="679.8" font-size="12.5" fill="#2a2a2a" textLength="37.14" lengthAdjust="spacingAndGlyphs">трубы</text>
<text x="259.05" y="679.8" font-size="12.5" fill="#2a2a2a" textLength="83.93" lengthAdjust="spacingAndGlyphs">канализации</text>
<text x="80.61" y="700.7" font-size="12.5" fill="#2a2a2a" textLength="9.65" lengthAdjust="spacingAndGlyphs">B</text>
<text x="93.00" y="700.7" font-size="12.5" fill="#2a2a2a" textLength="6.01" lengthAdjust="spacingAndGlyphs">–</text>
<text x="102.07" y="700.7" font-size="12.5" fill="#2a2a2a" textLength="36.99" lengthAdjust="spacingAndGlyphs">место</text>
<text x="142.37" y="700.7" font-size="12.5" fill="#2a2a2a" textLength="22.54" lengthAdjust="spacingAndGlyphs">для</text>
<text x="168.07" y="700.7" font-size="12.5" fill="#2a2a2a" textLength="46.43" lengthAdjust="spacingAndGlyphs">вывода</text>
<text x="219.28" y="700.7" font-size="12.5" fill="#2a2a2a" textLength="26.76" lengthAdjust="spacingAndGlyphs">труб</text>
<text x="249.53" y="700.7" font-size="12.5" fill="#2a2a2a" textLength="101.94" lengthAdjust="spacingAndGlyphs">водоснабжения</text>
</svg>
</body></html>
